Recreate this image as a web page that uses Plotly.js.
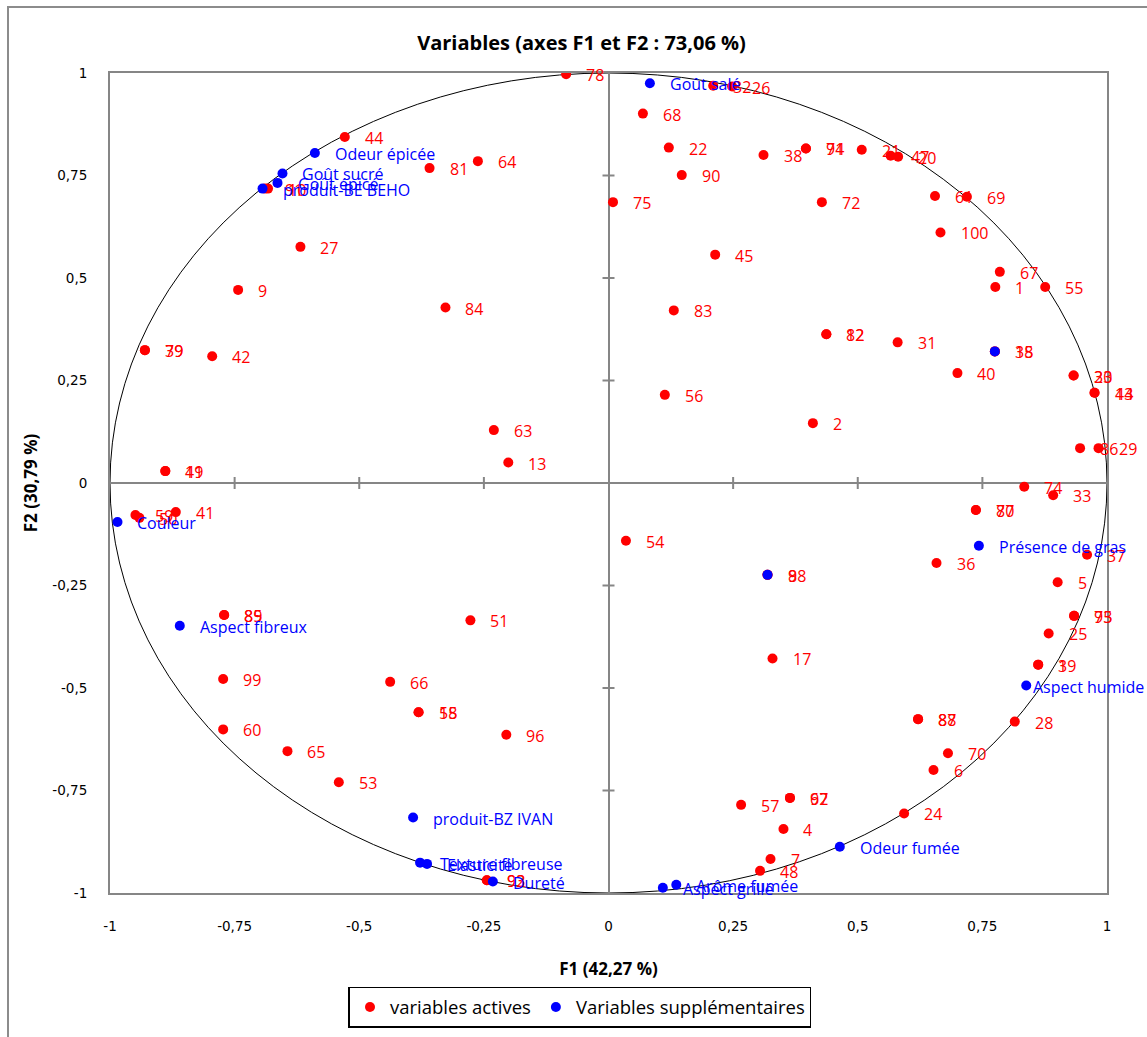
<!DOCTYPE html>
<html>
<head>
<meta charset="utf-8">
<script src="https://cdn.plot.ly/plotly-3.0.1.min.js"></script>
<style>html,body{margin:0;padding:0;background:#fff;}#chart{width:1147px;height:1037px;}</style>
</head>
<body>
<div id="chart"></div>
<script>
// Active variables (red)
const activeLabels = ['78','44','81','64','91','10','27','9','84','39','79','42','63','13','49','11','59','50','41','89','85','99','60','65','53','66','15','58','51','96','93','92','54','8','98','17','57','62','97','4','7','48','24','6','70','87','88','28','19','3','25','95','73','5','37','36','80','77','74','33','32','26','68','22','90','75','38','94','71','21','47','20','72','61','69','100','67','1','55','45','83','82','12','31','18','35','40','23','30','14','43','2','56','86','29'];
const activeF1 = [-0.085,-0.529,-0.359,-0.262,-0.689,-0.683,-0.618,-0.743,-0.327,-0.930,-0.930,-0.795,-0.230,-0.201,-0.889,-0.889,-0.949,-0.941,-0.868,-0.771,-0.771,-0.773,-0.773,-0.644,-0.541,-0.438,-0.381,-0.381,-0.277,-0.205,-0.244,-0.244,0.035,0.319,0.319,0.329,0.266,0.364,0.364,0.351,0.325,0.304,0.593,0.652,0.681,0.621,0.621,0.815,0.862,0.862,0.883,0.934,0.934,0.901,0.960,0.658,0.737,0.737,0.834,0.892,0.210,0.248,0.069,0.121,0.147,0.009,0.311,0.396,0.396,0.508,0.566,0.581,0.428,0.655,0.719,0.666,0.785,0.776,0.876,0.214,0.131,0.437,0.437,0.580,0.775,0.775,0.700,0.933,0.933,0.975,0.975,0.410,0.113,0.946,0.983];
const activeF2 = [0.997,0.844,0.768,0.785,0.718,0.718,0.576,0.471,0.428,0.324,0.324,0.309,0.129,0.050,0.029,0.029,-0.078,-0.085,-0.071,-0.322,-0.322,-0.478,-0.601,-0.654,-0.730,-0.485,-0.559,-0.559,-0.335,-0.614,-0.969,-0.969,-0.141,-0.224,-0.224,-0.428,-0.785,-0.768,-0.768,-0.844,-0.917,-0.946,-0.806,-0.700,-0.659,-0.576,-0.576,-0.582,-0.443,-0.443,-0.367,-0.324,-0.324,-0.242,-0.175,-0.195,-0.066,-0.066,-0.009,-0.030,0.969,0.967,0.901,0.818,0.751,0.685,0.800,0.816,0.816,0.813,0.798,0.796,0.685,0.700,0.698,0.611,0.515,0.478,0.478,0.557,0.421,0.363,0.363,0.343,0.321,0.321,0.268,0.262,0.262,0.220,0.220,0.146,0.215,0.085,0.085];

// Supplementary variables (blue)
const suppLabels = ['Goût salé','Odeur épicée','Goût sucré','Goût épicé','produit-BE BEHO','Couleur','Aspect fibreux','produit-BZ IVAN','Texture fibreuse','Elasticité','Dureté','Aspect grillé','Arôme fumée','Odeur fumée','Aspect humide','Présence de gras','',''];
const suppF1 = [0.083,-0.589,-0.654,-0.664,-0.694,-0.985,-0.860,-0.392,-0.378,-0.364,-0.232,0.109,0.136,0.464,0.838,0.743,0.775,0.319];
const suppF2 = [0.975,0.805,0.755,0.732,0.718,-0.095,-0.348,-0.816,-0.926,-0.929,-0.972,-0.987,-0.980,-0.887,-0.494,-0.153,0.321,-0.224];

// Axis ticks
const tickVals = [-1,-0.75,-0.5,-0.25,0,0.25,0.5,0.75,1];
const tickText = ['-1','-0,75','-0,5','-0,25','0','0,25','0,5','0,75','1'];

// labels that the original placed closer to their point (to stay inside the chart)
const tightLabels = ['Aspect humide'];

const RED = '#FF0000', BLUE = '#0000FF', GRAY = '#868686';
const labelFont = 'Open Sans, sans-serif';

const traces = [
  {type:'scatter', mode:'markers', name:'variables actives', x:activeF1, y:activeF2,
   marker:{color:RED, size:10}, hoverinfo:'text', text:activeLabels},
  {type:'scatter', mode:'markers', name:'Variables supplémentaires', x:suppF1, y:suppF2,
   marker:{color:BLUE, size:10}, hoverinfo:'text', text:suppLabels}
];

const annotations = [];
function addLabels(labels, xs, ys, color){
  labels.forEach((t,i)=>{
    if(!t) return;
    annotations.push({x:xs[i], y:ys[i], xref:'x', yref:'y', text:t, showarrow:false,
      xanchor:'left', yanchor:'middle', xshift:(tightLabels.indexOf(t)>=0 ? 5 : 18), yshift:-1,
      font:{family:labelFont, size:16, color:color}});
  });
}
addLabels(activeLabels, activeF1, activeF2, RED);
addLabels(suppLabels, suppF1, suppF2, BLUE);

const shapes = [
  // correlation circle
  {type:'circle', xref:'x', yref:'y', x0:-1, x1:1, y0:-1, y1:1, line:{color:'#000', width:1}, layer:'below'},
  // outer chart border
  {type:'rect', xref:'paper', yref:'paper', x0:-0.1023, x1:1.06, y0:-0.25, y1:1.0805, line:{color:'#8c8c8c', width:2}}
];
// cross tick marks on the zero axes
tickVals.forEach(t=>{
  if(t===0 || Math.abs(t)===1) return;
  shapes.push({type:'line', xref:'x', yref:'y', x0:t, x1:t, ysizemode:'pixel', yanchor:0, y0:-6, y1:6, line:{color:GRAY, width:2}});
  shapes.push({type:'line', xref:'x', yref:'y', y0:t, y1:t, xsizemode:'pixel', xanchor:0, x0:-6, x1:6, line:{color:GRAY, width:2}});
});

const axisCommon = {
  range:[-1,1], tickmode:'array', tickvals:tickVals, ticktext:tickText,
  showgrid:false, zeroline:true, zerolinecolor:GRAY, zerolinewidth:2,
  showline:true, mirror:true, linecolor:GRAY, linewidth:2, ticks:'',
  tickfont:{family:'DejaVu Sans, sans-serif', size:13.5, color:'#000'},
  fixedrange:true
};

const layout = {
  width:1147, height:1037,
  margin:{l:110, r:40, t:73, b:144, autoexpand:false},
  paper_bgcolor:'#fff', plot_bgcolor:'#fff',
  title:{text:'<b>Variables (axes F1 et F2 : 73,06 %)</b>', x:0.507, xanchor:'center', y:0.9585, yanchor:'middle',
         font:{family:labelFont, size:20, color:'#000'}},
  xaxis:Object.assign({}, axisCommon, {
    ticklabelstandoff:20,
    title:{text:'<b>F1 (42,27 %)</b>', font:{family:labelFont, size:17, color:'#000'}, standoff:30}
  }),
  yaxis:Object.assign({}, axisCommon, {
    ticklabelstandoff:18,
    title:{text:'<b>F2 (30,79 %)</b>', font:{family:labelFont, size:17, color:'#000'}, standoff:10}
  }),
  showlegend:true,
  legend:{orientation:'h', x:0.4714, xanchor:'center', y:-0.1146, yanchor:'top',
          bordercolor:'#000', borderwidth:1.5, bgcolor:'#fff',
          font:{family:labelFont, size:18.5, color:'#000'}},
  annotations:annotations,
  shapes:shapes,
  hovermode:'closest'
};

Plotly.newPlot('chart', traces, layout, {displayModeBar:false, staticPlot:true});
</script>
</body>
</html>
